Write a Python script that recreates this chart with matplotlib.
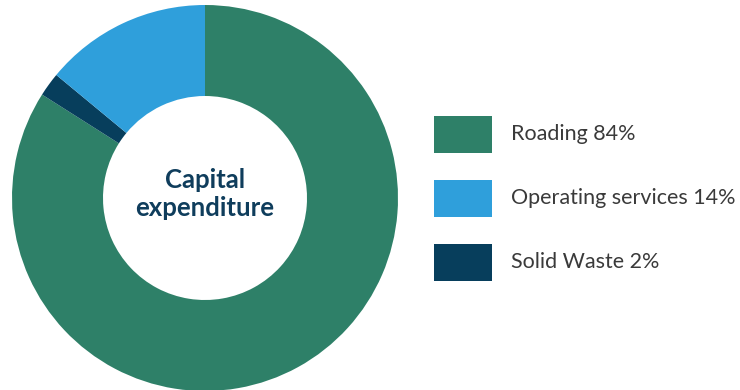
import matplotlib.pyplot as plt
from matplotlib.patches import Rectangle

# Capital expenditure split (percent)
labels = ["Roading", "Operating services", "Solid Waste"]
shares = [84, 14, 2]
colours = ["#2e8068", "#2f9fdb", "#073e5c"]

# ring goes clockwise from the top: roading, solid waste, operating
ring_order = [0, 2, 1]

W, H = 740, 390
fig = plt.figure(figsize=(W / 100, H / 100), dpi=100)

# donut: centre at (205, 198) px from top, outer radius 193 px
cx, cy, r = 205, 198, 193
ax = fig.add_axes([(cx - r) / W, (H - cy - r) / H, 2 * r / W, 2 * r / H])
ax.pie([shares[i] for i in ring_order], colors=[colours[i] for i in ring_order],
       startangle=90, counterclock=False, radius=1,
       wedgeprops=dict(width=1 - 102 / 193, linewidth=0))
ax.set_xlim(-1, 1)
ax.set_ylim(-1, 1)
ax.set_aspect("equal")
ax.axis("off")

ax.text(0, 0.02, "Capital\nexpenditure", ha="center", va="center",
        fontsize=18.5, fontweight="bold", color="#0f3d5c", family="Lato",
        linespacing=1.2)

# legend boxes on the right
for i, (lab, s, c) in enumerate(zip(labels, shares, colours)):
    top = 116 + i * 64
    fig.add_artist(Rectangle((434 / W, (H - top - 37) / H), 58 / W, 37 / H,
                             transform=fig.transFigure, color=c, lw=0))
    fig.text(511 / W, (H - top - 18) / H, f"{lab} {s}%", ha="left",
             va="center", fontsize=15.5, color="#3a3a3a", family="Lato")

fig.savefig("out.png", dpi=100)
